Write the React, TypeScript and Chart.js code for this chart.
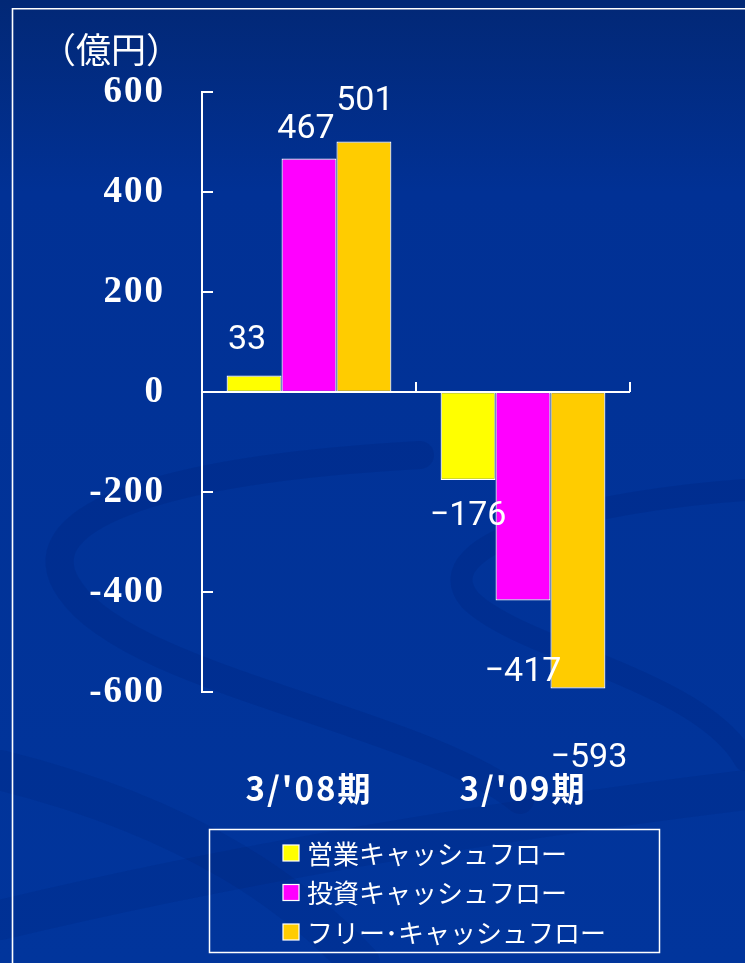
import React, { useEffect, useRef } from 'react';
import { Chart, registerables } from 'chart.js';

Chart.register(...registerables);

// ---- data ----
const categories = ["3/'08期", "3/'09期"];
const seriesNames = ['営業キャッシュフロー', '投資キャッシュフロー', 'フリー･キャッシュフロー'];
const operatingCF = [33, -176];
const investingCF = [467, -417];
const freeCF = [501, -593];
const yTicks = [-600, -400, -200, 0, 200, 400, 600];
const unitLabel = '（億円）';

// ---- styles ----
const W = 745;
const H = 963;
const seriesColors = ['#FFFF00', '#FF00FF', '#FFCC00'];
const CJK = '"Noto Sans CJK JP", "Noto Sans", sans-serif';
const NUM = 'Roboto, "DejaVu Sans", sans-serif';
// label offsets (dx, dy) relative to bar end, per series per category
const labelShift = [
  [[-7, -35], [0, 36]],
  [[-3, -29], [0, 72]],
  [[1, -40], [11, 70]],
];

const backgroundPlugin = {
  id: 'slideBackground',
  beforeDraw(chart: any) {
    const ctx = chart.ctx as CanvasRenderingContext2D;
    ctx.save();
    const g = ctx.createLinearGradient(0, 0, 0, H);
    g.addColorStop(0, '#022876');
    g.addColorStop(0.2, '#013195');
    g.addColorStop(1, '#01359c');
    ctx.fillStyle = g;
    ctx.fillRect(0, 0, W, H);

    // faint swooshes
    ctx.strokeStyle = 'rgba(0, 20, 90, 0.12)';
    ctx.lineCap = 'round';
    ctx.lineWidth = 28;
    ctx.beginPath();
    ctx.moveTo(420, 455);
    ctx.bezierCurveTo(150, 470, 20, 520, 70, 590);
    ctx.bezierCurveTo(130, 680, 420, 720, 520, 800);
    ctx.stroke();
    ctx.lineWidth = 22;
    ctx.beginPath();
    ctx.moveTo(745, 490);
    ctx.bezierCurveTo(600, 500, 420, 540, 470, 600);
    ctx.bezierCurveTo(520, 650, 700, 680, 745, 760);
    ctx.stroke();
    ctx.lineWidth = 40;
    ctx.strokeStyle = 'rgba(0, 20, 90, 0.1)';
    ctx.beginPath();
    ctx.moveTo(0, 920);
    ctx.bezierCurveTo(250, 860, 500, 820, 745, 790);
    ctx.stroke();
    ctx.beginPath();
    ctx.moveTo(0, 770);
    ctx.bezierCurveTo(200, 820, 300, 900, 360, 963);
    ctx.stroke();

    // slide frame
    ctx.strokeStyle = '#ffffff';
    ctx.lineWidth = 1.6;
    ctx.beginPath();
    ctx.moveTo(12.5, H + 5);
    ctx.lineTo(12.5, 8.8);
    ctx.lineTo(W + 5, 8.8);
    ctx.stroke();

    // unit label
    ctx.fillStyle = '#ffffff';
    ctx.font = `35px ${CJK}`;
    ctx.textAlign = 'left';
    ctx.textBaseline = 'middle';
    ctx.fillText(unitLabel, 41, 50);
    ctx.restore();
    // wider tracking for axis tick labels
    (ctx as any).letterSpacing = '2px';
  },
};

const overlayPlugin = {
  id: 'overlay',
  afterDatasetsDraw(chart: any) {
    const ctx = chart.ctx as CanvasRenderingContext2D;
    (ctx as any).letterSpacing = '0px';
    const { left, right, top, bottom } = chart.chartArea;
    const yScale = chart.scales.y;
    ctx.save();
    ctx.strokeStyle = '#ffffff';
    ctx.lineWidth = 2;
    // y axis line
    ctx.beginPath();
    ctx.moveTo(left, top);
    ctx.lineTo(left, bottom);
    ctx.stroke();
    // y ticks (inside)
    yTicks.forEach((v) => {
      const py = Math.round(yScale.getPixelForValue(v));
      ctx.beginPath();
      ctx.moveTo(left - 1, py);
      ctx.lineTo(left + 11, py);
      ctx.stroke();
    });
    // zero line
    const y0 = Math.round(yScale.getPixelForValue(0));
    ctx.beginPath();
    ctx.moveTo(left, y0);
    ctx.lineTo(right, y0);
    ctx.stroke();
    const n = categories.length;
    for (let i = 0; i <= n; i++) {
      const px = left + ((right - left) * i) / n;
      ctx.beginPath();
      ctx.moveTo(px, y0);
      ctx.lineTo(px, y0 - 10);
      ctx.stroke();
    }

    // data labels
    ctx.fillStyle = '#ffffff';
    ctx.font = `34px ${NUM}`;
    ctx.textAlign = 'center';
    ctx.textBaseline = 'middle';
    chart.data.datasets.forEach((ds: any, d: number) => {
      const meta = chart.getDatasetMeta(d);
      meta.data.forEach((bar: any, i: number) => {
        const v = ds.data[i];
        const txt = String(v).replace('-', '−');
        const [dx, dy] = labelShift[d][i];
        ctx.fillText(txt, bar.x + dx, bar.y + dy);
      });
    });

    // legend box
    ctx.lineWidth = 1.5;
    ctx.strokeRect(209.5, 829.5, 450, 123);
    ctx.font = `26px ${CJK}`;
    ctx.textAlign = 'left';
    chart.data.datasets.forEach((ds: any, d: number) => {
      const cy = 853 + d * 39.5;
      ctx.fillStyle = ds.backgroundColor;
      ctx.fillRect(283, cy - 8, 16, 16);
      ctx.lineWidth = 1.2;
      ctx.strokeStyle = '#ffffff';
      ctx.strokeRect(283, cy - 8, 16, 16);
      ctx.fillStyle = '#ffffff';
      ctx.fillText(ds.label, 307, cy + 1);
    });
    ctx.restore();
  },
};

export default function App() {
  const ref = useRef<HTMLCanvasElement | null>(null);
  useEffect(() => {
    document.body.style.margin = '0';
    const canvas = ref.current;
    if (!canvas) return;
    const seriesData = [operatingCF, investingCF, freeCF];
    const chart = new Chart(canvas, {
      type: 'bar',
      data: {
        labels: categories,
        datasets: seriesNames.map((name, k) => ({
          label: name,
          data: seriesData[k],
          backgroundColor: seriesColors[k],
          borderColor: '#ffffff',
          borderWidth: 1.2,
          borderSkipped: false,
          categoryPercentage: 0.77,
          barPercentage: 1.0,
        })),
      },
      options: {
        responsive: false,
        animation: false,
        devicePixelRatio: 1,
        layout: { padding: { left: 0, right: 115, top: 92, bottom: 0 } },
        plugins: {
          legend: { display: false },
          tooltip: { enabled: false },
          title: { display: false },
        },
        scales: {
          y: {
            min: yTicks[0],
            max: yTicks[yTicks.length - 1],
            ticks: {
              stepSize: yTicks[1] - yTicks[0],
              color: '#ffffff',
              padding: 37,
              font: { family: '"Liberation Serif", "Times New Roman", serif', size: 37, weight: 'bold' },
            },
            grid: { display: false, drawTicks: false },
            border: { display: false },
            afterFit: (s: any) => {
              s.width = 202;
            },
          },
          x: {
            offset: true,
            ticks: {
              color: '#ffffff',
              padding: 77,
              font: { family: CJK, size: 33, weight: 'bold' },
            },
            grid: { display: false, drawTicks: false },
            border: { display: false },
            afterFit: (s: any) => {
              s.height = 271;
            },
          },
        },
      },
      plugins: [backgroundPlugin, overlayPlugin],
    });
    return () => chart.destroy();
  }, []);
  return (
    <div style={{ position: 'absolute', left: 0, top: 0, width: W, height: H }}>
      <canvas ref={ref} width={W} height={H} style={{ display: 'block', width: W, height: H }} />
    </div>
  );
}
